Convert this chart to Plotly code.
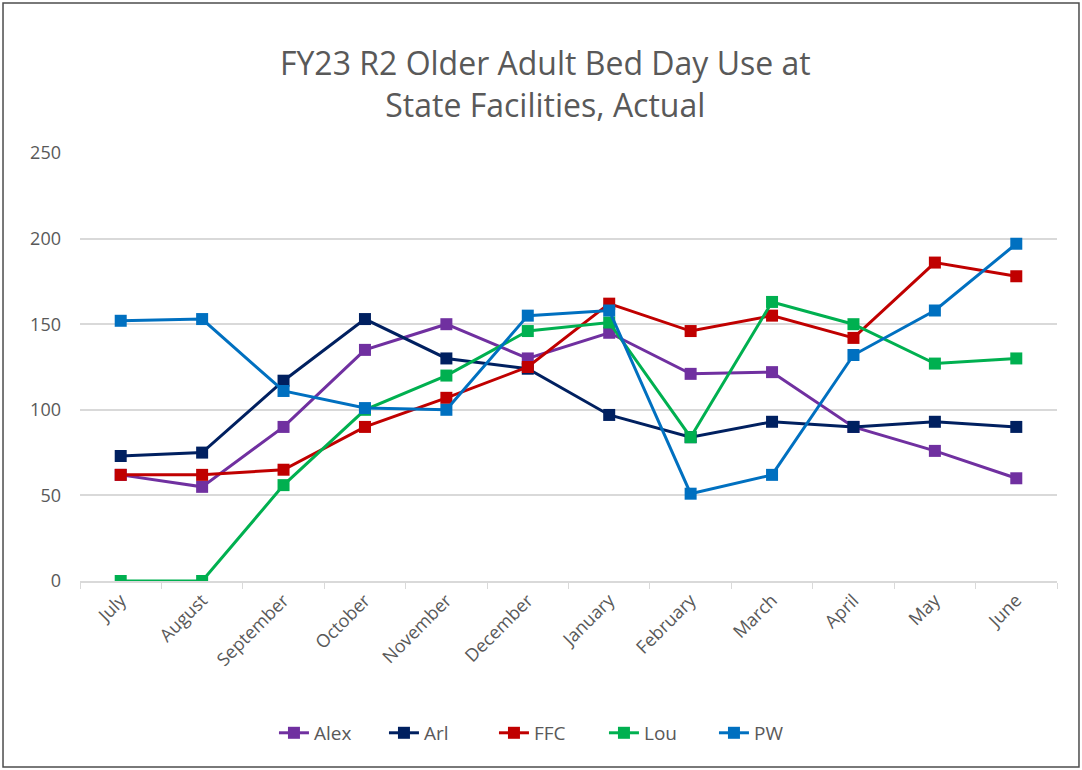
import plotly.graph_objects as go

# data
months = ["July", "August", "September", "October", "November", "December",
          "January", "February", "March", "April", "May", "June"]

alex = [62, 55, 90, 135, 150, 130, 145, 121, 122, 90, 76, 60]
arl = [73, 75, 117, 153, 130, 124, 97, 84, 93, 90, 93, 90]
ffc = [62, 62, 65, 90, 107, 125, 162, 146, 155, 142, 186, 178]
lou = [0, 0, 56, 100, 120, 146, 151, 84, 163, 150, 127, 130]
pw = [152, 153, 111, 101, 100, 155, 158, 51, 62, 132, 158, 197]

series = [
    ("Alex", alex, "#7030A0"),
    ("Arl", arl, "#002060"),
    ("FFC", ffc, "#C00000"),
    ("Lou", lou, "#00B050"),
    ("PW", pw, "#0070C0"),
]

fig = go.Figure()
for name, vals, color in series:
    fig.add_trace(go.Scatter(
        x=months, y=vals, name=name, mode="lines+markers",
        line=dict(color=color, width=3),
        marker=dict(symbol="square", size=12, color=color),
    ))

grey = "#595959"
fig.update_layout(
    width=1082, height=770,
    paper_bgcolor="white", plot_bgcolor="white",
    font=dict(family="Open Sans, Liberation Sans, sans-serif", color=grey, size=18),
    margin=dict(l=80, r=25, t=153, b=189),
    title=dict(
        text="FY23 R2 Older Adult Bed Day Use at<br>State Facilities, Actual",
        x=0.504, xanchor="center", y=0.902, yanchor="middle",
        font=dict(size=32, color=grey),
    ),
    legend=dict(
        orientation="h", x=0.48, xanchor="center", y=-0.355, yanchor="middle",
        font=dict(size=19, color=grey),
        entrywidth=65, entrywidthmode="pixels",
    ),
    showlegend=True,
)
fig.update_xaxes(
    range=[-0.5, 11.5], tickangle=-45, showgrid=False,
    showline=True, linecolor="#d9d9d9", linewidth=1.5,
    ticks="outside", tickson="boundaries", ticklen=6, tickcolor="#d9d9d9",
    tickfont=dict(size=18, color=grey),
)
fig.update_yaxes(
    range=[0, 250], dtick=50, showgrid=True, gridcolor="#d9d9d9", gridwidth=1.5,
    zeroline=False, showline=False, ticks="", ticklen=0,
    ticklabelstandoff=18,
    tickfont=dict(size=18, color=grey),
)

# outer chart border like the spreadsheet frame
fig.add_shape(type="rect", xref="paper", yref="paper",
              x0=-0.0788, x1=1.0225, y0=-0.4346, y1=1.3505,
              line=dict(color="#4d4d4d", width=1.5), layer="below")

fig.write_html("out.html", config={"displayModeBar": False},
               post_script="document.body.style.margin='0';")
